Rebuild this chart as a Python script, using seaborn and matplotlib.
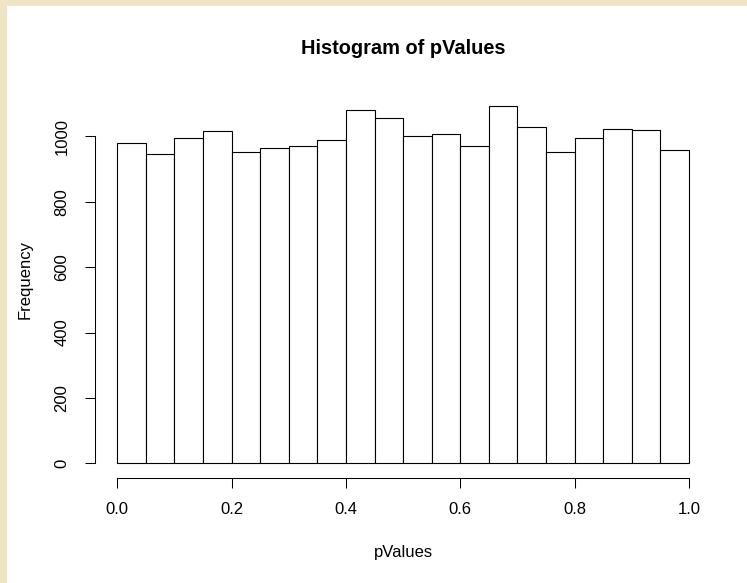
import numpy as np
import matplotlib
matplotlib.use("Agg")
import matplotlib.pyplot as plt
from matplotlib.patches import Rectangle
import seaborn as sns

# Data (20 bins of width 0.05 on [0, 1])
bin_edges = [0.0, 0.05, 0.10, 0.15, 0.20, 0.25, 0.30, 0.35, 0.40, 0.45, 0.50,
             0.55, 0.60, 0.65, 0.70, 0.75, 0.80, 0.85, 0.90, 0.95, 1.0]
counts = [980, 947, 994, 1017, 953, 964, 971, 989, 1080, 1055,
          1002, 1006, 969, 1093, 1027, 953, 995, 1022, 1020, 958]
x_ticks = [0.0, 0.2, 0.4, 0.6, 0.8, 1.0]
x_tick_labels = ["0.0", "0.2", "0.4", "0.6", "0.8", "1.0"]
y_ticks = [0, 200, 400, 600, 800, 1000]
y_tick_labels = ["0", "200", "400", "600", "800", "1000"]

centers = [(a + b) / 2 for a, b in zip(bin_edges[:-1], bin_edges[1:])]

sns.set_theme(style="ticks")
plt.rcParams['font.family'] = ['Liberation Sans', 'DejaVu Sans']

W, H = 747, 583
fig = plt.figure(figsize=(W / 100, H / 100), dpi=100, facecolor="#EFE5C6")
fig.patches.append(Rectangle((7 / W, 0), 1, 1 - 6 / H, transform=fig.transFigure,
                             facecolor="white", edgecolor="none", zorder=-10))

left_px, right_px = 117.3, 689.0
zero_px, top_px = 463.3, 100.0
ax = fig.add_axes([left_px / W, (H - zero_px) / H, (right_px - left_px) / W, (zero_px - top_px) / H])
ax.patch.set_alpha(0)

sns.histplot(x=centers, weights=counts, bins=bin_edges, color="white",
             edgecolor="black", linewidth=0.8, alpha=1, ax=ax)
for p in ax.patches:
    p.set_clip_on(False)

px_per_unit = (463.3 - 136.3) / 1000
ax.set_xlim(0, 1)
ax.set_ylim(0, (zero_px - top_px) / px_per_unit)

for s in ["top", "right"]:
    ax.spines[s].set_visible(False)
ax.spines["bottom"].set_position(("outward", (477.7 - zero_px) * 0.72))
ax.spines["bottom"].set_bounds(0, 1)
ax.spines["left"].set_position(("outward", (left_px - 95) * 0.72))
ax.spines["left"].set_bounds(0, 1000)
for s in ["bottom", "left"]:
    ax.spines[s].set_linewidth(0.75)
    ax.spines[s].set_color("black")

ax.set_xticks(x_ticks)
ax.set_xticklabels(x_tick_labels)
ax.set_yticks(y_ticks)
ax.set_yticklabels(y_tick_labels, rotation=90, va="center")
ax.tick_params(axis="both", direction="out", length=7.5, width=0.75, color="black",
               labelsize=12, labelcolor="black", bottom=True, left=True)
ax.tick_params(axis="x", pad=10)
ax.tick_params(axis="y", pad=11)

ax.set_xlabel("")
ax.set_ylabel("")
fig.text((left_px + right_px) / 2 / W, 1 - 553 / H, "pValues", ha="center", va="center",
         fontsize=12, color="black")
fig.text(25 / W, 1 - 280 / H, "Frequency", ha="center", va="center", rotation=90,
         fontsize=12, color="black")
fig.text((left_px + right_px) / 2 / W, 1 - 48 / H, "Histogram of pValues", ha="center",
         va="center", fontsize=14.4, fontweight="bold", color="black")

fig.savefig("out.png", dpi=100, facecolor=fig.get_facecolor())
